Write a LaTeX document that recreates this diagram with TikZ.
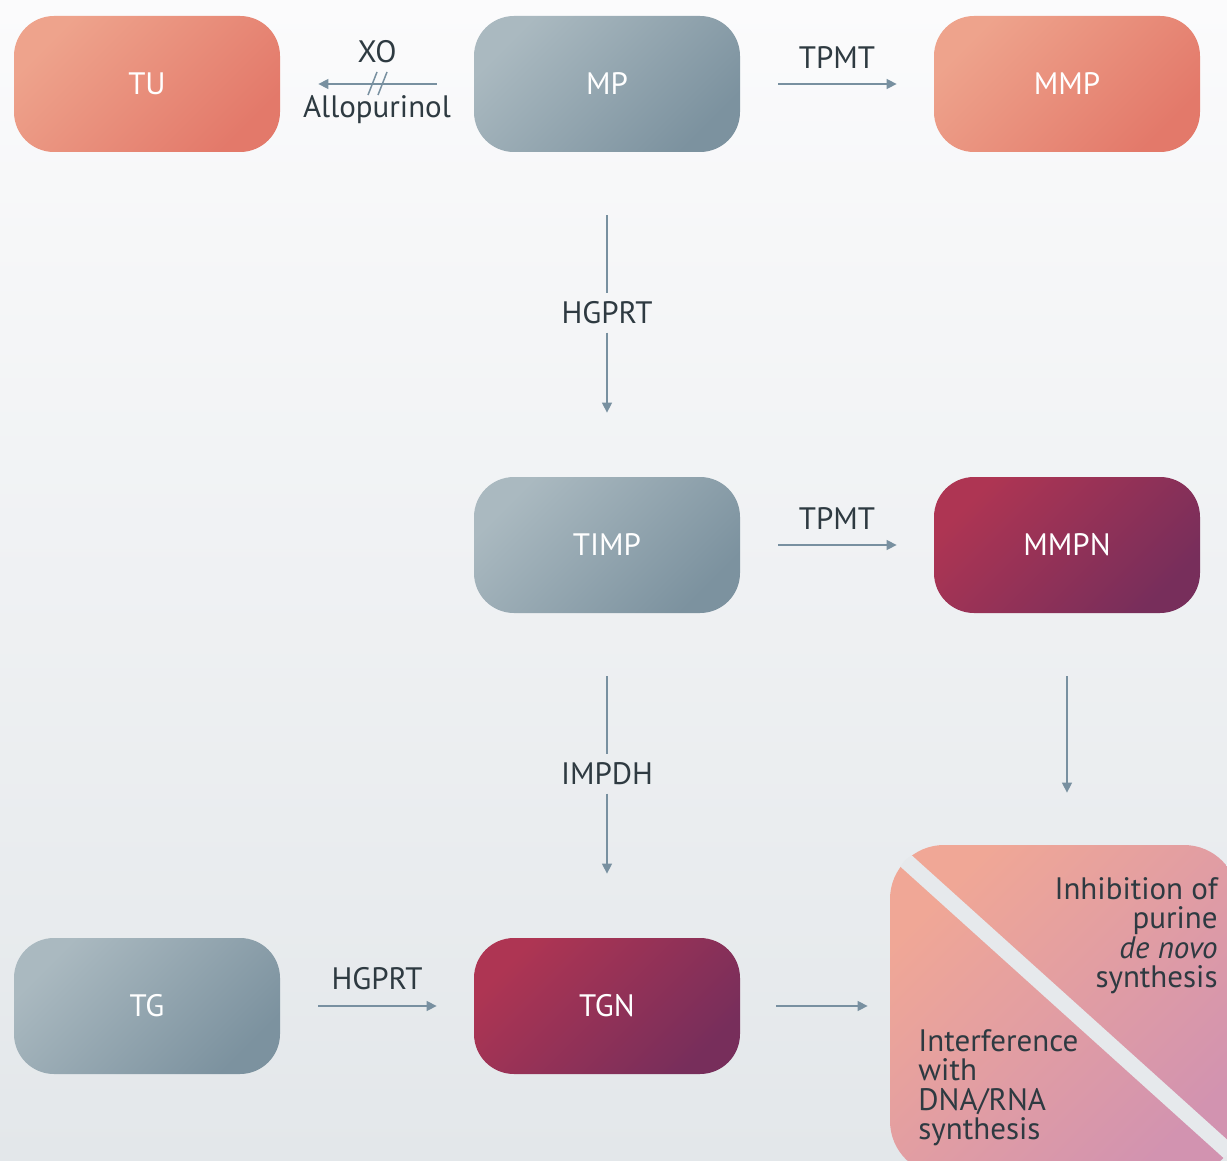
\documentclass[tikz,border=0pt]{standalone}
\usepackage{fontspec}
\setmainfont{PT Sans}
\usetikzlibrary{arrows.meta}

\definecolor{salmonL}{HTML}{EEA38C}
\definecolor{salmonD}{HTML}{E3796A}
\definecolor{slateL}{HTML}{AAB9C0}
\definecolor{slateD}{HTML}{7C929F}
\definecolor{wineL}{HTML}{AE3553}
\definecolor{wineD}{HTML}{772E5B}
\definecolor{pinkL}{HTML}{F0A796}
\definecolor{pinkD}{HTML}{D293B0}
\definecolor{arrowc}{HTML}{7890A0}
\definecolor{inkc}{HTML}{2E3A41}
\definecolor{bgtop}{HTML}{FBFBFC}
\definecolor{bgbot}{HTML}{E3E7EA}
\definecolor{bgband}{HTML}{E6E9EC}

\begin{document}
\begin{tikzpicture}[x=0.5pt,y=-0.5pt,
    box/.style={rounded corners=20pt, minimum width=133pt, minimum height=68pt,
      text=white, font=\fontsize{15.5}{18}\selectfont},
    salmonbox/.style={box, top color=salmonL, bottom color=salmonD, shading angle=45},
    slatebox/.style={box, top color=slateL, bottom color=slateD, shading angle=45},
    winebox/.style={box, top color=wineL, bottom color=wineD, shading angle=45},
    effectbox/.style={rounded corners=27pt, minimum width=174pt, minimum height=165pt,
      top color=pinkL, bottom color=pinkD, shading angle=45},
    lbl/.style={text=inkc, font=\fontsize{15.5}{18}\selectfont, inner sep=4pt},
    flow/.style={draw=arrowc, line width=0.75pt},
    tip/.style={-{Triangle[length=5pt,width=5pt]}}]
    \shade[top color=bgtop, bottom color=bgbot] (0,0) rectangle (1227,1161);
    \useasboundingbox (0,0) rectangle (1227,1161);

    % top row
    \node[salmonbox] (TU) at (147,84) {TU};
    \node[slatebox] (MP) at (607,84) {MP};
    \node[salmonbox] (MMP) at (1067,84) {MMP};
    % middle row
    \node[slatebox] (TIMP) at (607,545) {TIMP};
    \node[winebox] (MMPN) at (1067,545) {MMPN};
    % bottom row
    \node[slatebox] (TG) at (147,1006) {TG};
    \node[winebox] (TGN) at (607,1006) {TGN};
    \node[effectbox] (effect) at (1064,1010) {};

    \begin{scope}
      \clip[rounded corners=27pt] (effect.north west) rectangle (effect.south east);
      \draw[line width=8pt, bgband] (885,842) -- (1250,1171);
    \end{scope}
    \node[lbl, anchor=north east, align=right, inner sep=0pt,
      font=\fontsize{15.5}{14.75}\selectfont] (inhib) at (1218,877)
      {Inhibition of\\purine\\\textit{de novo}\\synthesis};
    \node[lbl, anchor=north west, align=left, inner sep=0pt,
      font=\fontsize{15.5}{14.75}\selectfont] (interf) at (918,1029)
      {Interference\\with\\DNA/RNA\\synthesis};

    % MP -> TU, blocked
    \draw[flow, tip, shorten <=18.5pt, shorten >=19pt] (MP.west) -- (TU.east);
    \draw[flow] (368,95) -- (377,72) (378,95) -- (387,72);
    \node[lbl] (xo) at (377,52) {XO};
    \node[lbl] (allo) at (377,110) {Allopurinol};

    % TPMT
    \draw[flow, tip, shorten <=19pt, shorten >=18.5pt] (MP.east) -- (MMP.west);
    \node[lbl] (tpmt1) at (837,58) {TPMT};
    \draw[flow, tip, shorten <=19pt, shorten >=18.5pt] (TIMP.east) -- (MMPN.west);
    \node[lbl] (tpmt2) at (837,519) {TPMT};

    % vertical steps
    \node[lbl] (hgprt1) at (607,313) {HGPRT};
    \draw[flow, shorten <=31.5pt] (MP.south) -- (hgprt1);
    \draw[flow, tip, shorten >=32pt] (hgprt1) -- (TIMP.north);
    \node[lbl] (impdh) at (607,774) {IMPDH};
    \draw[flow, shorten <=31.5pt] (TIMP.south) -- (impdh);
    \draw[flow, tip, shorten >=32pt] (impdh) -- (TGN.north);
    \draw[flow, tip, shorten <=31.5pt, shorten >=26pt] (MMPN.south) -- (MMPN.south |- effect.north);

    % bottom
    \draw[flow, tip, shorten <=19pt, shorten >=18.5pt] (TG.east) -- (TGN.west);
    \node[lbl] (hgprt2) at (377,979) {HGPRT};
    \draw[flow, tip, shorten <=18pt, shorten >=11pt] (TGN.east) -- (TGN.east -| effect.west);
\end{tikzpicture}
\end{document}
